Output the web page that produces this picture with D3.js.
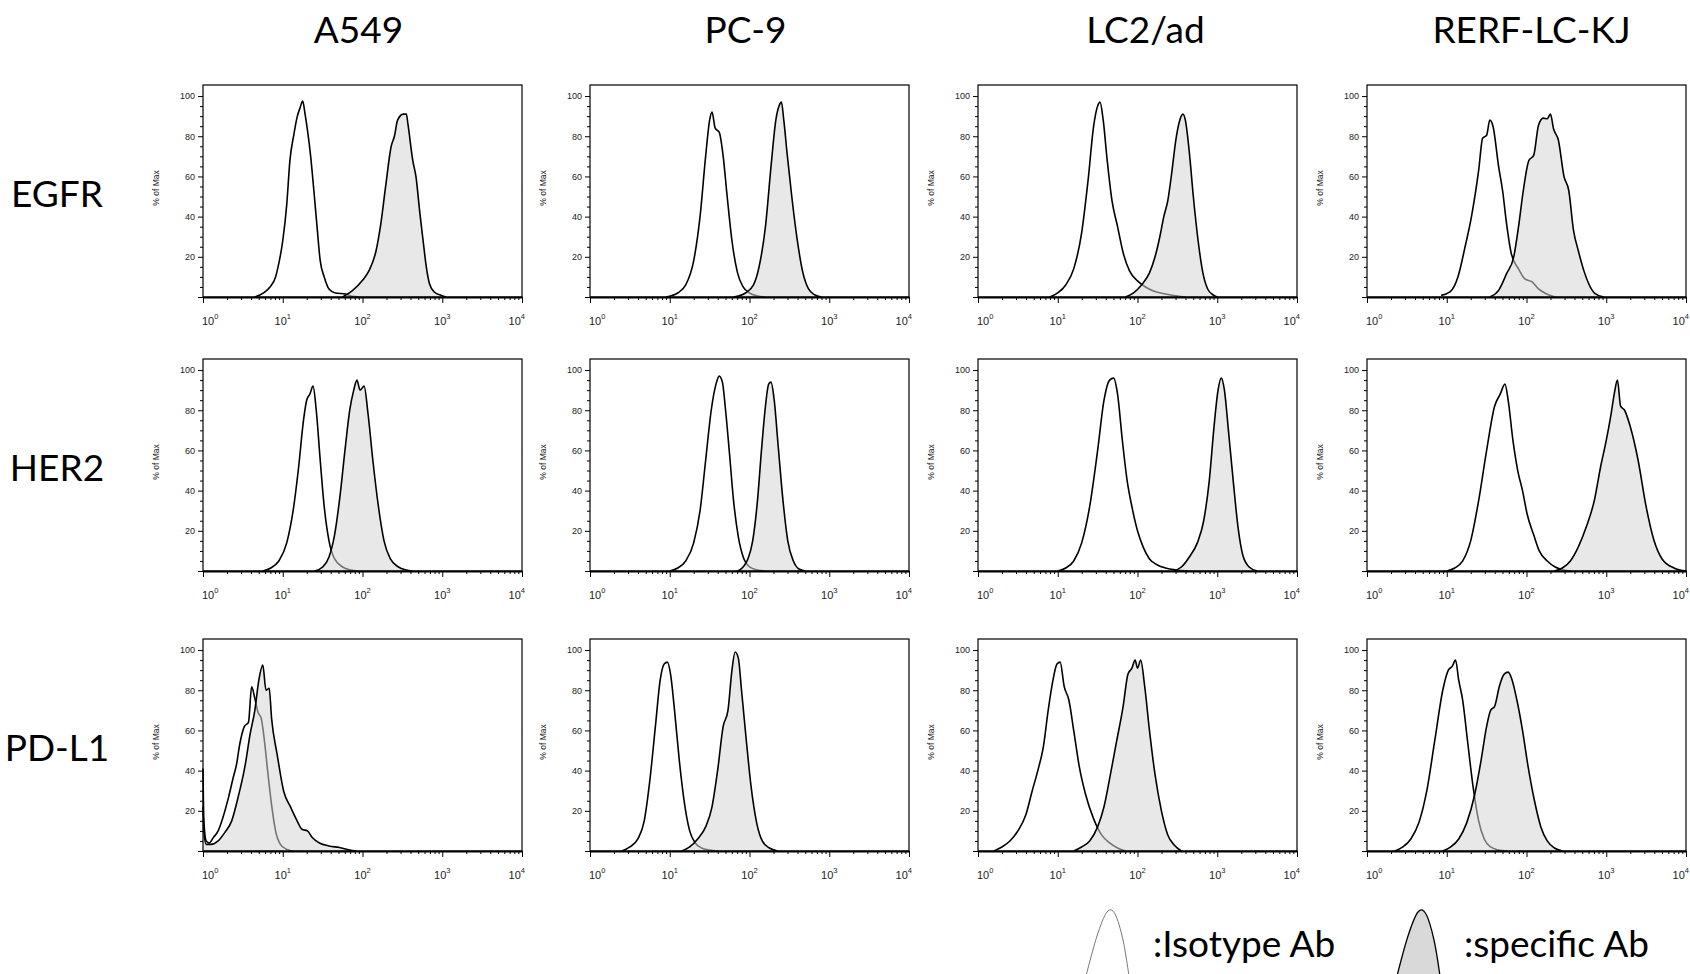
<!DOCTYPE html>
<meta charset="utf-8">
<style>
  body { margin: 0; background: #fff; }
  .big { font-family: Lato, "Open Sans", sans-serif; font-size: 37px; fill: #000; }
  .axis text, .small { font-family: "Liberation Sans", Arial, sans-serif; fill: #222; }
</style>
<body>
<script src="https://cdnjs.cloudflare.com/ajax/libs/d3/7.8.5/d3.min.js"></script>
<script>
// cell lines (columns) and markers (rows)
var cellLines = ["A549", "PC-9", "LC2/ad", "RERF-LC-KJ"];
var markers = ["EGFR", "HER2", "PD-L1"];
var yTicks = [0, 20, 40, 60, 80, 100];
var xDecades = [0, 1, 2, 3, 4];

// histograms: [log10 fluorescence, % of Max], one curve per cell line
var egfrIso = [
  [[0.65,0],[0.76,2],[0.84,5],[0.91,10],[0.95,16.6],[1.0,28],[1.05,46],[1.09,68],[1.14,81],[1.18,89.5],[1.22,94.5],[1.25,97.5],[1.28,91],[1.31,83],[1.35,70],[1.39,53],[1.43,35],[1.47,18],[1.52,10],[1.58,4],[1.66,2],[1.79,1.5],[1.87,0.3],[1.96,0]],
  [[0.95,0],[1.1,2],[1.2,6],[1.3,18],[1.38,40],[1.45,70],[1.5,88],[1.53,92],[1.57,84],[1.62,82],[1.67,70],[1.72,50],[1.78,28],[1.85,12],[1.92,5],[2.0,2],[2.1,0.5],[2.2,0]],
  [[0.9,0],[1.0,2],[1.1,6],[1.2,14],[1.3,32],[1.38,58],[1.45,85],[1.5,95],[1.53,97],[1.57,88],[1.62,68],[1.68,48],[1.75,35],[1.82,22],[1.9,13],[2.0,8],[2.1,5],[2.2,3],[2.35,1.5],[2.5,0.5],[2.6,0]],
  [[0.93,0.8],[1.04,2.5],[1.14,10],[1.23,25],[1.31,40],[1.4,63],[1.45,79],[1.5,80.5],[1.54,88],[1.58,85],[1.65,65],[1.7,53],[1.75,36.5],[1.81,21.5],[1.9,14],[1.98,9],[2.07,7.5],[2.15,4],[2.24,1.7],[2.36,0]]
];
var egfrSpec = [
  [[1.75,0],[1.87,3],[2.0,8.3],[2.08,13],[2.17,23],[2.23,36.5],[2.29,55],[2.36,75],[2.4,80],[2.44,88],[2.51,91],[2.55,91],[2.57,86],[2.63,68],[2.67,60],[2.72,41.5],[2.76,28],[2.8,15],[2.84,6.6],[2.9,2.5],[2.99,0.8],[3.05,0]],
  [[1.8,0],[1.95,2],[2.05,6],[2.12,15],[2.2,35],[2.27,65],[2.33,88],[2.37,95],[2.4,97],[2.43,88],[2.47,72],[2.53,50],[2.6,28],[2.67,12],[2.74,4],[2.82,1],[2.9,0]],
  [[1.85,0],[1.95,2],[2.05,6],[2.15,12],[2.22,20],[2.28,30],[2.33,40],[2.38,48],[2.43,62],[2.48,78],[2.53,88],[2.57,91],[2.6,88],[2.65,72],[2.7,50],[2.76,28],[2.82,12],[2.88,4],[2.95,1],[3.0,0]],
  [[1.54,0],[1.65,3.3],[1.75,11.6],[1.84,20],[1.9,35],[1.96,53],[2.03,68],[2.09,70.5],[2.15,85.4],[2.21,89],[2.26,88.7],[2.3,91],[2.34,83.6],[2.4,78],[2.47,60],[2.53,53],[2.59,33],[2.65,23],[2.72,13],[2.78,6.6],[2.86,1.7],[2.97,0]]
];
var her2Iso = [
  [[0.75,0],[0.85,1.5],[0.95,5],[1.05,14],[1.13,30],[1.2,52],[1.26,75],[1.3,85],[1.34,88],[1.38,92],[1.42,80],[1.47,55],[1.52,32],[1.58,15],[1.65,6],[1.75,2],[1.85,0.5],[1.95,0]],
  [[1.0,0],[1.1,1.5],[1.2,5],[1.3,14],[1.38,30],[1.45,55],[1.52,80],[1.58,93],[1.62,97],[1.66,94],[1.7,80],[1.75,58],[1.8,35],[1.86,17],[1.93,6],[2.0,2],[2.1,0.5],[2.2,0]],
  [[1.0,0],[1.1,1.5],[1.2,5],[1.3,14],[1.4,32],[1.5,60],[1.58,85],[1.65,95],[1.7,96],[1.75,88],[1.81,65],[1.87,45],[1.93,32],[2.0,20],[2.07,12],[2.15,6],[2.25,3],[2.35,1.5],[2.5,0.5],[2.65,0]],
  [[1.0,0],[1.1,1.5],[1.2,5],[1.3,15],[1.4,35],[1.5,60],[1.6,82],[1.67,88],[1.73,93],[1.77,85],[1.83,65],[1.89,50],[1.95,40],[2.01,28],[2.09,18],[2.16,10],[2.26,5],[2.36,2],[2.46,0.5],[2.56,0]]
];
var her2Spec = [
  [[1.4,0],[1.5,2],[1.58,7],[1.65,18],[1.72,38],[1.78,60],[1.84,80],[1.89,90],[1.93,95],[1.97,90],[2.02,92],[2.07,78],[2.13,55],[2.2,32],[2.27,15],[2.35,6],[2.45,2],[2.55,0.5],[2.62,0]],
  [[1.85,0],[1.92,2],[1.98,6],[2.04,15],[2.1,35],[2.15,60],[2.2,82],[2.24,93],[2.27,94],[2.31,85],[2.36,62],[2.42,35],[2.48,15],[2.55,5],[2.62,1],[2.7,0]],
  [[2.45,0],[2.55,2],[2.65,7],[2.75,14],[2.83,25],[2.9,45],[2.96,72],[3.01,90],[3.05,96],[3.09,90],[3.14,70],[3.2,45],[3.26,22],[3.32,8],[3.4,2],[3.5,0]],
  [[2.35,0],[2.45,1.5],[2.55,5],[2.65,12],[2.75,22],[2.85,35],[2.93,52],[3.0,65],[3.06,78],[3.1,88],[3.14,95],[3.18,82],[3.23,80],[3.3,72],[3.4,55],[3.5,32],[3.6,15],[3.7,6],[3.85,1.5],[4.0,0]]
];
var pdl1Iso = [
  [[0,41],[0.01,16],[0.04,5],[0.08,4],[0.13,6.7],[0.19,10],[0.25,16.7],[0.32,26.7],[0.38,36.7],[0.42,43],[0.46,53],[0.52,62],[0.57,64],[0.61,81.7],[0.65,76],[0.69,69],[0.73,66],[0.77,55],[0.81,40],[0.86,23],[0.91,10],[0.97,3.3],[1.05,0.8],[1.12,0]],
  [[0.4,0],[0.5,2],[0.6,6],[0.68,15],[0.75,35],[0.82,62],[0.88,85],[0.93,93],[0.97,94],[1.01,88],[1.06,70],[1.12,45],[1.18,25],[1.25,10],[1.32,4],[1.4,1.5],[1.5,0.5],[1.6,0]],
  [[0.2,0],[0.3,2],[0.4,5],[0.5,10],[0.6,18],[0.68,30],[0.75,40],[0.82,52],[0.88,70],[0.94,85],[0.99,93],[1.03,94],[1.08,82],[1.14,75],[1.2,60],[1.27,42],[1.35,28],[1.45,16],[1.55,8],[1.65,4],[1.75,1.5],[1.85,0]],
  [[0.35,0],[0.45,2],[0.55,6],[0.65,14],[0.75,30],[0.85,55],[0.95,80],[1.02,90],[1.07,92],[1.11,95],[1.15,85],[1.2,75],[1.26,55],[1.33,32],[1.4,15],[1.47,6],[1.55,2],[1.65,0.5],[1.75,0]]
];
var pdl1Spec = [
  [[0,22],[0.01,10],[0.04,3.3],[0.1,3.3],[0.19,5],[0.27,9],[0.36,15],[0.44,26.7],[0.53,43],[0.59,58],[0.65,70],[0.7,85],[0.75,92.5],[0.79,80],[0.83,81],[0.86,66],[0.93,48],[1.01,30],[1.1,21.7],[1.18,15],[1.24,10.8],[1.31,10],[1.37,6.7],[1.46,4],[1.58,2.5],[1.71,1.7],[1.84,0.5],[1.92,0]],
  [[1.15,0],[1.25,2],[1.35,6],[1.45,12],[1.53,22],[1.6,40],[1.67,62],[1.73,70],[1.78,90],[1.82,99],[1.86,96],[1.9,80],[1.96,55],[2.02,32],[2.09,14],[2.16,5],[2.25,1.5],[2.35,0]],
  [[1.2,0],[1.3,2],[1.4,5],[1.5,12],[1.58,22],[1.66,38],[1.74,55],[1.82,72],[1.88,88],[1.93,91],[1.97,95],[2.0,91],[2.04,95],[2.09,82],[2.15,60],[2.22,38],[2.3,20],[2.38,8],[2.46,3],[2.55,0]],
  [[0.95,0],[1.05,2],[1.15,6],[1.25,14],[1.35,28],[1.43,45],[1.5,62],[1.55,70],[1.6,72],[1.66,82],[1.72,88],[1.77,89],[1.82,85],[1.88,75],[1.95,60],[2.02,42],[2.1,25],[2.18,12],[2.26,5],[2.35,1.5],[2.45,0]]
];
var isoRows = [egfrIso, her2Iso, pdl1Iso];
var specRows = [egfrSpec, her2Spec, pdl1Spec];

// layout
var W = 1690, H = 974;
var colLeft = [203, 590, 978, 1367];
var rowTop = [85, 359, 639];
var titleDx = [-4, -4, 8, 5];
var panelW = 319, panelH = 212;

var svg = d3.select("body").append("svg")
    .attr("width", W)
    .attr("height", H);

var x = d3.scaleLog().domain([1, 1e4]).range([0, panelW]);
var y = d3.scaleLinear().domain([0, 105.5]).range([panelH, 0]);

var area = d3.area()
    .x(d => x(Math.pow(10, d[0])))
    .y0(y(0))
    .y1(d => y(d[1]))
    .curve(d3.curveMonotoneX);
var line = area.lineY1();

var minorX = [];
xDecades.slice(0, -1).forEach(function(k) {
  for (var m = 2; m < 10; m++) minorX.push(m * Math.pow(10, k));
});
var minorY = d3.range(5, 105, 5).filter(v => v % 20 !== 0);

// column titles
svg.selectAll(".coltitle")
  .data(cellLines)
  .join("text")
    .attr("class", "big")
    .attr("x", (d, i) => colLeft[i] + panelW / 2 + titleDx[i])
    .attr("y", 43)
    .attr("text-anchor", "middle")
    .text(d => d);

// row labels
svg.selectAll(".rowlabel")
  .data(markers)
  .join("text")
    .attr("class", "big")
    .attr("x", 57)
    .attr("y", (d, i) => rowTop[i] + panelH / 2 + 3)
    .attr("dy", "0.35em")
    .attr("text-anchor", "middle")
    .text(d => d);

markers.forEach(function(mk, r) {
  cellLines.forEach(function(cl, c) {
    var g = svg.append("g")
        .attr("transform", "translate(" + colLeft[c] + "," + rowTop[r] + ")");

    // isotype: white fill, black line
    g.append("path").attr("d", area(isoRows[r][c]))
      .attr("fill", "#fff");
    g.append("path").attr("d", line(isoRows[r][c]))
      .attr("fill", "none").attr("stroke", "#000").attr("stroke-width", 1.6)
      .attr("stroke-linejoin", "round");

    // specific: translucent grey fill, lets the isotype line show through grey
    g.append("path").attr("d", area(specRows[r][c]))
      .attr("fill", "#d6d6d6").attr("fill-opacity", 0.55);
    g.append("path").attr("d", line(specRows[r][c]))
      .attr("fill", "none").attr("stroke", "#000").attr("stroke-width", 1.6)
      .attr("stroke-linejoin", "round");

    // frame
    g.append("rect")
      .attr("width", panelW).attr("height", panelH)
      .attr("fill", "none").attr("stroke", "#000").attr("stroke-width", 1.2);

    // y axis
    var yAx = g.append("g").attr("class", "axis")
      .call(d3.axisLeft(y).tickValues(yTicks).tickSize(5).tickPadding(3)
        .tickFormat(d => d === 0 ? "" : d));
    yAx.select(".domain").remove();
    yAx.selectAll("text").attr("font-size", 9);
    var yMin = g.append("g").attr("class", "axis")
      .call(d3.axisLeft(y).tickValues(minorY).tickSize(3).tickFormat(""));
    yMin.select(".domain").remove();

    // x axis
    var xAx = g.append("g").attr("class", "axis")
      .attr("transform", "translate(0," + panelH + ")")
      .call(d3.axisBottom(x).tickValues(xDecades.map(k => Math.pow(10, k)))
        .tickSize(6).tickSizeOuter(0).tickFormat(""));
    xAx.select(".domain").attr("stroke-width", 2);
    xAx.selectAll("text").remove();
    g.append("g").attr("class", "axis")
      .attr("transform", "translate(0," + panelH + ")")
      .call(d3.axisBottom(x).tickValues(minorX).tickSize(3).tickFormat(""))
      .select(".domain").remove();

    var lab = g.selectAll(".xlab")
      .data(xDecades)
      .join("text")
        .attr("class", "small")
        .attr("font-size", 11)
        .attr("x", (d, i) => x(Math.pow(10, d)) + (i === 0 ? -1 : i === xDecades.length - 1 ? 3 : 0))
        .attr("y", panelH + 28)
        .attr("text-anchor", (d, i) => i === 0 ? "start" : i === xDecades.length - 1 ? "end" : "middle");
    lab.append("tspan").text("10");
    lab.append("tspan").attr("dy", -6).attr("font-size", 7.5).text(d => d);

    g.append("text")
      .attr("class", "small")
      .attr("font-size", 8.5)
      .attr("transform", "translate(-44," + (panelH / 2 - 3) + ") rotate(-90)")
      .attr("text-anchor", "middle")
      .text("% of Max");
  });
});

// legend
var glyph = d3.line().curve(d3.curveCardinal);
var peak = [[-25, 66], [-14, 26], [-4, 2], [4, 4], [12, 30], [18, 66]];
svg.append("path")
  .attr("transform", "translate(1111,910)")
  .attr("d", glyph(peak))
  .attr("fill", "none").attr("stroke", "#777").attr("stroke-width", 1);
svg.append("text").attr("class", "big")
  .attr("x", 1153).attr("y", 957)
  .text(":Isotype Ab");
svg.append("path")
  .attr("transform", "translate(1422,910)")
  .attr("d", glyph(peak) + "Z")
  .attr("fill", "#d9d9d9").attr("stroke", "#000").attr("stroke-width", 1.3);
svg.append("text").attr("class", "big")
  .attr("x", 1464).attr("y", 957)
  .text(":specific Ab");
</script>
</body>
